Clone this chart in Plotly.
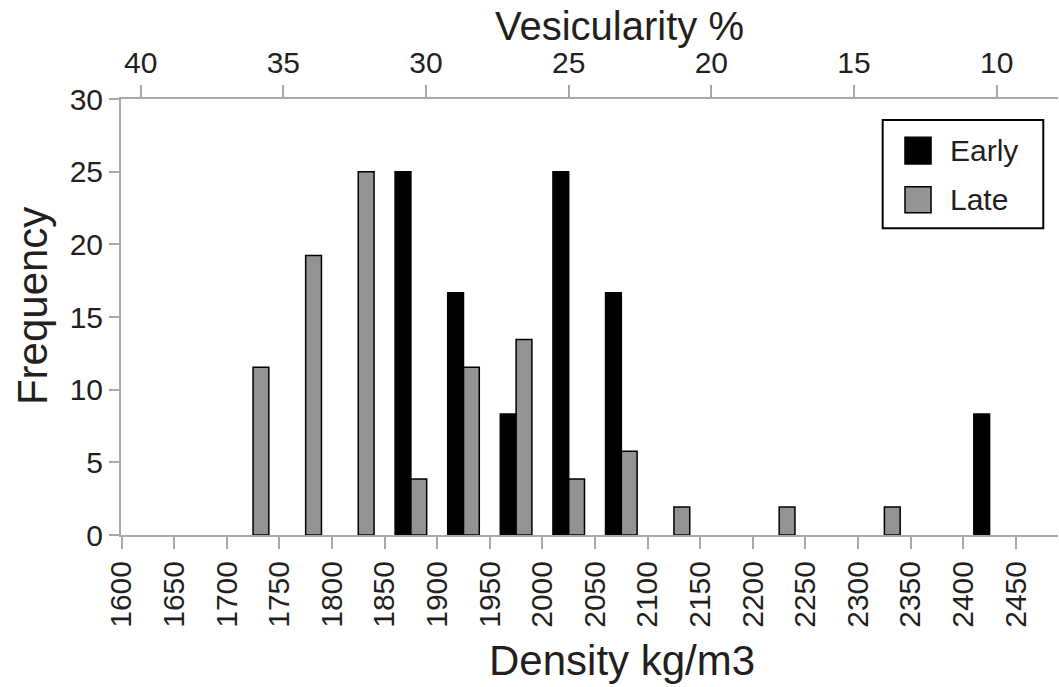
import plotly.graph_objects as go

# ---- data ----
bin_centers = [1725, 1775, 1825, 1875, 1925, 1975, 2025, 2075, 2125, 2175, 2225, 2275, 2325, 2375, 2425]
early = [0, 0, 0, 25.0, 16.67, 8.33, 25.0, 16.67, 0, 0, 0, 0, 0, 0, 8.33]
late = [11.54, 19.23, 25.0, 3.85, 11.54, 13.46, 3.85, 5.77, 1.92, 0, 1.92, 0, 1.92, 0, 0]
density_ticks = list(range(1600, 2451, 50))
vesic_ticks = [40, 35, 30, 25, 20, 15, 10]
freq_ticks = [0, 5, 10, 15, 20, 25, 30]
series_names = ["Early", "Late"]
series_colors = ["#000000", "#939393"]

FONT = "Liberation Sans, Arial, Helvetica, sans-serif"
TXT = "#231f20"
AX = "#a9a9a9"

fig = go.Figure()
for name, vals, col in zip(series_names, [early, late], series_colors):
    fig.add_trace(go.Bar(
        x=bin_centers,
        y=[v if v else None for v in vals],
        name=name,
        marker=dict(color=col, line=dict(color="#000000", width=1.5)),
        showlegend=False,
    ))
# dummy trace to activate the top axis
fig.add_trace(go.Scatter(x=[None], y=[None], xaxis="x2", yaxis="y", showlegend=False, hoverinfo="skip"))

axis_common = dict(
    showline=True, linecolor=AX, linewidth=2,
    ticks="outside", tickcolor=AX, tickwidth=2,
    showgrid=False, zeroline=False,
    tickfont=dict(family=FONT, size=30, color=TXT),
)

fig.update_layout(
    width=1059, height=687,
    margin=dict(l=121, r=1, t=99, b=152),
    paper_bgcolor="white", plot_bgcolor="white",
    barmode="group", bargap=0.4, bargroupgap=0,
    font=dict(family=FONT, color=TXT),
    xaxis=dict(
        range=[1599.5, 2490], tickmode="array", tickvals=density_ticks,
        ticktext=[str(t) for t in density_ticks], tickangle=-90, ticklen=12,
        **axis_common,
    ),
    xaxis2=dict(
        overlaying="x", side="top", anchor="y",
        range=[40.69, 7.85], tickmode="array", tickvals=vesic_ticks,
        ticktext=[str(t) for t in vesic_ticks], ticklen=12,
        **axis_common,
    ),
    yaxis=dict(
        range=[0, 30], tickmode="array", tickvals=freq_ticks,
        ticktext=[str(t) for t in freq_ticks], ticklen=10,
        **axis_common,
    ),
)

annots = [
    dict(text="Density kg/m3", x=0.5347, y=-0.2867, xanchor="center", yanchor="middle", font_size=42),
    dict(text="Vesicularity %", x=0.5325, y=1.1674, xanchor="center", yanchor="middle", font_size=40),
    dict(text="Frequency", x=-0.095, y=0.525, xanchor="center", yanchor="middle", font_size=42, textangle=-90),
    dict(text="Early", x=0.8826, y=0.8819, xanchor="left", yanchor="middle", font_size=30),
    dict(text="Late", x=0.8826, y=0.7695, xanchor="left", yanchor="middle", font_size=30),
]
for a in annots:
    fs = a.pop("font_size")
    fig.add_annotation(xref="paper", yref="paper", showarrow=False,
                       font=dict(family=FONT, size=fs, color=TXT), **a)

# legend box and swatches
fig.add_shape(type="rect", xref="paper", yref="paper", x0=0.8129, x1=0.9843, y0=0.7034, y1=0.9518,
              line=dict(color="#000000", width=2), fillcolor="white", layer="above")
fig.add_shape(type="rect", xref="paper", yref="paper", x0=0.8367, x1=0.8645, y0=0.8509, y1=0.9122,
              line=dict(color="#000000", width=1.5), fillcolor=series_colors[0], layer="above")
fig.add_shape(type="rect", xref="paper", yref="paper", x0=0.8367, x1=0.8645, y0=0.7392, y1=0.7989,
              line=dict(color="#000000", width=1.5), fillcolor=series_colors[1], layer="above")

fig.write_html("out.html")
